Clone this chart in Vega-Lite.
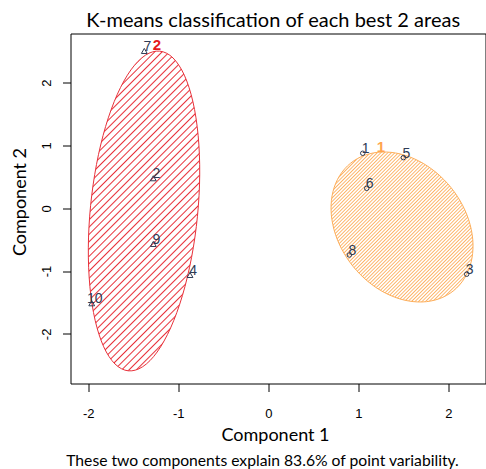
{
  "$schema": "https://vega.github.io/schema/vega-lite/v6.json",
  "width": 415,
  "height": 350,
  "autosize": "none",
  "padding": {"left": 70.5, "top": 33.5, "right": 0.5, "bottom": 85.5},
  "background": "white",
  "config": {"view": {"stroke": "black", "strokeWidth": 1}, "axis": {"grid": false}},
  "resolve": {"axis": {"x": "independent", "y": "independent"}},
  "datasets": {
    "red": [
      {"i": 0, "x": -1.2066, "y": 2.5021}, {"i": 1, "x": -1.0589, "y": 2.3936}, {"i": 2, "x": -0.9331, "y": 2.1191},
      {"i": 3, "x": -0.8378, "y": 1.6976}, {"i": 4, "x": -0.7796, "y": 1.1572}, {"i": 5, "x": -0.7623, "y": 0.5349},
      {"i": 6, "x": -0.7873, "y": -0.1266}, {"i": 7, "x": -0.8528, "y": -0.7823}, {"i": 8, "x": -0.9542, "y": -1.3881},
      {"i": 9, "x": -1.0847, "y": -1.9017}, {"i": 10, "x": -1.2353, "y": -2.2889}, {"i": 11, "x": -1.396, "y": -2.5229},
      {"i": 12, "x": -1.5557, "y": -2.5881}, {"i": 13, "x": -1.7033, "y": -2.4796}, {"i": 14, "x": -1.8291, "y": -2.2051},
      {"i": 15, "x": -1.9244, "y": -1.7836}, {"i": 16, "x": -1.9827, "y": -1.2432}, {"i": 17, "x": -1.9999, "y": -0.6209},
      {"i": 18, "x": -1.9749, "y": 0.0406}, {"i": 19, "x": -1.9094, "y": 0.6963}, {"i": 20, "x": -1.808, "y": 1.3021},
      {"i": 21, "x": -1.6776, "y": 1.8158}, {"i": 22, "x": -1.5269, "y": 2.2029}, {"i": 23, "x": -1.3662, "y": 2.4369}
    ],
    "orange": [
      {"i": 0, "x": 2.0573, "y": -1.3132}, {"i": 1, "x": 1.8972, "y": -1.4414}, {"i": 2, "x": 1.7089, "y": -1.4916},
      {"i": 3, "x": 1.5056, "y": -1.4604}, {"i": 4, "x": 1.3007, "y": -1.35}, {"i": 5, "x": 1.1086, "y": -1.1677},
      {"i": 6, "x": 0.942, "y": -0.9264}, {"i": 7, "x": 0.8126, "y": -0.6422}, {"i": 8, "x": 0.7289, "y": -0.3344},
      {"i": 9, "x": 0.6969, "y": -0.0244}, {"i": 10, "x": 0.7187, "y": 0.2674}, {"i": 11, "x": 0.7926, "y": 0.5204},
      {"i": 12, "x": 0.9138, "y": 0.7177}, {"i": 13, "x": 1.0739, "y": 0.8459}, {"i": 14, "x": 1.2622, "y": 0.896},
      {"i": 15, "x": 1.4656, "y": 0.8648}, {"i": 16, "x": 1.6704, "y": 0.7545}, {"i": 17, "x": 1.8626, "y": 0.5721},
      {"i": 18, "x": 2.0291, "y": 0.3309}, {"i": 19, "x": 2.1586, "y": 0.0467}, {"i": 20, "x": 2.2422, "y": -0.2611},
      {"i": 21, "x": 2.2742, "y": -0.5712}, {"i": 22, "x": 2.2524, "y": -0.8629}, {"i": 23, "x": 2.1786, "y": -1.1159}
    ],
    "pts": [
      {"id": "1", "cluster": "1", "x": 1.049, "y": 0.876},
      {"id": "2", "cluster": "2", "x": -1.278, "y": 0.478},
      {"id": "3", "cluster": "1", "x": 2.204, "y": -1.05},
      {"id": "4", "cluster": "2", "x": -0.87, "y": -1.062},
      {"id": "5", "cluster": "1", "x": 1.5, "y": 0.806},
      {"id": "6", "cluster": "1", "x": 1.093, "y": 0.318},
      {"id": "7", "cluster": "2", "x": -1.378, "y": 2.505},
      {"id": "8", "cluster": "1", "x": 0.9, "y": -0.744},
      {"id": "9", "cluster": "2", "x": -1.278, "y": -0.568},
      {"id": "10", "cluster": "2", "x": -1.962, "y": -1.513}
    ],
    "clabels": [
      {"cl": "2", "x": -1.237, "y": 2.6},
      {"cl": "1", "x": 1.252, "y": 0.976}
    ]
  },
  "layer": [
    {
      "data": {"name": "red"},
      "mark": {
        "type": "line",
        "interpolate": "cardinal-closed",
        "stroke": "#e8313a",
        "strokeWidth": 1,
        "fill": {
          "gradient": "linear",
          "x1": 0, "y1": 0, "x2": 0.4184, "y2": 1.2024,
          "stops": [
            {"offset": 0.0000, "color": "#ffffff"}, {"offset": 0.0033, "color": "#e8313a"}, {"offset": 0.0066, "color": "#ffffff"},
            {"offset": 0.0169, "color": "#ffffff"}, {"offset": 0.0202, "color": "#e8313a"}, {"offset": 0.0235, "color": "#ffffff"},
            {"offset": 0.0339, "color": "#ffffff"}, {"offset": 0.0372, "color": "#e8313a"}, {"offset": 0.0405, "color": "#ffffff"},
            {"offset": 0.0508, "color": "#ffffff"}, {"offset": 0.0541, "color": "#e8313a"}, {"offset": 0.0574, "color": "#ffffff"},
            {"offset": 0.0678, "color": "#ffffff"}, {"offset": 0.0711, "color": "#e8313a"}, {"offset": 0.0744, "color": "#ffffff"},
            {"offset": 0.0847, "color": "#ffffff"}, {"offset": 0.0880, "color": "#e8313a"}, {"offset": 0.0913, "color": "#ffffff"},
            {"offset": 0.1017, "color": "#ffffff"}, {"offset": 0.1050, "color": "#e8313a"}, {"offset": 0.1083, "color": "#ffffff"},
            {"offset": 0.1186, "color": "#ffffff"}, {"offset": 0.1219, "color": "#e8313a"}, {"offset": 0.1252, "color": "#ffffff"},
            {"offset": 0.1356, "color": "#ffffff"}, {"offset": 0.1389, "color": "#e8313a"}, {"offset": 0.1422, "color": "#ffffff"},
            {"offset": 0.1525, "color": "#ffffff"}, {"offset": 0.1558, "color": "#e8313a"}, {"offset": 0.1591, "color": "#ffffff"},
            {"offset": 0.1695, "color": "#ffffff"}, {"offset": 0.1728, "color": "#e8313a"}, {"offset": 0.1761, "color": "#ffffff"},
            {"offset": 0.1864, "color": "#ffffff"}, {"offset": 0.1897, "color": "#e8313a"}, {"offset": 0.1930, "color": "#ffffff"},
            {"offset": 0.2034, "color": "#ffffff"}, {"offset": 0.2067, "color": "#e8313a"}, {"offset": 0.2100, "color": "#ffffff"},
            {"offset": 0.2203, "color": "#ffffff"}, {"offset": 0.2236, "color": "#e8313a"}, {"offset": 0.2269, "color": "#ffffff"},
            {"offset": 0.2373, "color": "#ffffff"}, {"offset": 0.2406, "color": "#e8313a"}, {"offset": 0.2439, "color": "#ffffff"},
            {"offset": 0.2542, "color": "#ffffff"}, {"offset": 0.2575, "color": "#e8313a"}, {"offset": 0.2608, "color": "#ffffff"},
            {"offset": 0.2712, "color": "#ffffff"}, {"offset": 0.2745, "color": "#e8313a"}, {"offset": 0.2778, "color": "#ffffff"},
            {"offset": 0.2881, "color": "#ffffff"}, {"offset": 0.2914, "color": "#e8313a"}, {"offset": 0.2947, "color": "#ffffff"},
            {"offset": 0.3051, "color": "#ffffff"}, {"offset": 0.3084, "color": "#e8313a"}, {"offset": 0.3117, "color": "#ffffff"},
            {"offset": 0.3220, "color": "#ffffff"}, {"offset": 0.3253, "color": "#e8313a"}, {"offset": 0.3286, "color": "#ffffff"},
            {"offset": 0.3390, "color": "#ffffff"}, {"offset": 0.3423, "color": "#e8313a"}, {"offset": 0.3456, "color": "#ffffff"},
            {"offset": 0.3559, "color": "#ffffff"}, {"offset": 0.3592, "color": "#e8313a"}, {"offset": 0.3625, "color": "#ffffff"},
            {"offset": 0.3729, "color": "#ffffff"}, {"offset": 0.3762, "color": "#e8313a"}, {"offset": 0.3795, "color": "#ffffff"},
            {"offset": 0.3898, "color": "#ffffff"}, {"offset": 0.3931, "color": "#e8313a"}, {"offset": 0.3964, "color": "#ffffff"},
            {"offset": 0.4068, "color": "#ffffff"}, {"offset": 0.4101, "color": "#e8313a"}, {"offset": 0.4134, "color": "#ffffff"},
            {"offset": 0.4237, "color": "#ffffff"}, {"offset": 0.4270, "color": "#e8313a"}, {"offset": 0.4303, "color": "#ffffff"},
            {"offset": 0.4407, "color": "#ffffff"}, {"offset": 0.4440, "color": "#e8313a"}, {"offset": 0.4473, "color": "#ffffff"},
            {"offset": 0.4576, "color": "#ffffff"}, {"offset": 0.4609, "color": "#e8313a"}, {"offset": 0.4642, "color": "#ffffff"},
            {"offset": 0.4746, "color": "#ffffff"}, {"offset": 0.4779, "color": "#e8313a"}, {"offset": 0.4812, "color": "#ffffff"},
            {"offset": 0.4915, "color": "#ffffff"}, {"offset": 0.4948, "color": "#e8313a"}, {"offset": 0.4981, "color": "#ffffff"},
            {"offset": 0.5085, "color": "#ffffff"}, {"offset": 0.5118, "color": "#e8313a"}, {"offset": 0.5151, "color": "#ffffff"},
            {"offset": 0.5254, "color": "#ffffff"}, {"offset": 0.5287, "color": "#e8313a"}, {"offset": 0.5320, "color": "#ffffff"},
            {"offset": 0.5424, "color": "#ffffff"}, {"offset": 0.5457, "color": "#e8313a"}, {"offset": 0.5490, "color": "#ffffff"},
            {"offset": 0.5593, "color": "#ffffff"}, {"offset": 0.5626, "color": "#e8313a"}, {"offset": 0.5659, "color": "#ffffff"},
            {"offset": 0.5763, "color": "#ffffff"}, {"offset": 0.5796, "color": "#e8313a"}, {"offset": 0.5829, "color": "#ffffff"},
            {"offset": 0.5932, "color": "#ffffff"}, {"offset": 0.5965, "color": "#e8313a"}, {"offset": 0.5998, "color": "#ffffff"},
            {"offset": 0.6102, "color": "#ffffff"}, {"offset": 0.6135, "color": "#e8313a"}, {"offset": 0.6168, "color": "#ffffff"},
            {"offset": 0.6271, "color": "#ffffff"}, {"offset": 0.6304, "color": "#e8313a"}, {"offset": 0.6337, "color": "#ffffff"},
            {"offset": 0.6441, "color": "#ffffff"}, {"offset": 0.6474, "color": "#e8313a"}, {"offset": 0.6507, "color": "#ffffff"},
            {"offset": 0.6610, "color": "#ffffff"}, {"offset": 0.6643, "color": "#e8313a"}, {"offset": 0.6676, "color": "#ffffff"},
            {"offset": 0.6780, "color": "#ffffff"}, {"offset": 0.6813, "color": "#e8313a"}, {"offset": 0.6846, "color": "#ffffff"},
            {"offset": 0.6949, "color": "#ffffff"}, {"offset": 0.6982, "color": "#e8313a"}, {"offset": 0.7015, "color": "#ffffff"},
            {"offset": 0.7119, "color": "#ffffff"}, {"offset": 0.7152, "color": "#e8313a"}, {"offset": 0.7185, "color": "#ffffff"},
            {"offset": 0.7288, "color": "#ffffff"}, {"offset": 0.7321, "color": "#e8313a"}, {"offset": 0.7354, "color": "#ffffff"},
            {"offset": 0.7458, "color": "#ffffff"}, {"offset": 0.7491, "color": "#e8313a"}, {"offset": 0.7524, "color": "#ffffff"},
            {"offset": 0.7627, "color": "#ffffff"}, {"offset": 0.7660, "color": "#e8313a"}, {"offset": 0.7693, "color": "#ffffff"},
            {"offset": 0.7797, "color": "#ffffff"}, {"offset": 0.7830, "color": "#e8313a"}, {"offset": 0.7863, "color": "#ffffff"},
            {"offset": 0.7966, "color": "#ffffff"}, {"offset": 0.7999, "color": "#e8313a"}, {"offset": 0.8032, "color": "#ffffff"},
            {"offset": 0.8136, "color": "#ffffff"}, {"offset": 0.8169, "color": "#e8313a"}, {"offset": 0.8202, "color": "#ffffff"},
            {"offset": 0.8305, "color": "#ffffff"}, {"offset": 0.8338, "color": "#e8313a"}, {"offset": 0.8371, "color": "#ffffff"},
            {"offset": 0.8475, "color": "#ffffff"}, {"offset": 0.8508, "color": "#e8313a"}, {"offset": 0.8541, "color": "#ffffff"},
            {"offset": 0.8644, "color": "#ffffff"}, {"offset": 0.8677, "color": "#e8313a"}, {"offset": 0.8710, "color": "#ffffff"},
            {"offset": 0.8814, "color": "#ffffff"}, {"offset": 0.8847, "color": "#e8313a"}, {"offset": 0.8880, "color": "#ffffff"},
            {"offset": 0.8983, "color": "#ffffff"}, {"offset": 0.9016, "color": "#e8313a"}, {"offset": 0.9049, "color": "#ffffff"},
            {"offset": 0.9153, "color": "#ffffff"}, {"offset": 0.9186, "color": "#e8313a"}, {"offset": 0.9219, "color": "#ffffff"},
            {"offset": 0.9322, "color": "#ffffff"}, {"offset": 0.9355, "color": "#e8313a"}, {"offset": 0.9388, "color": "#ffffff"},
            {"offset": 0.9492, "color": "#ffffff"}, {"offset": 0.9525, "color": "#e8313a"}, {"offset": 0.9558, "color": "#ffffff"},
            {"offset": 0.9661, "color": "#ffffff"}, {"offset": 0.9694, "color": "#e8313a"}, {"offset": 0.9727, "color": "#ffffff"},
            {"offset": 0.9831, "color": "#ffffff"}, {"offset": 0.9864, "color": "#e8313a"}, {"offset": 0.9897, "color": "#ffffff"},
            {"offset": 1.0, "color": "#ffffff"}
          ]
        }
      },
      "encoding": {
        "x": {
          "field": "x", "type": "quantitative",
          "scale": {"domain": [-2.198, 2.413], "nice": false, "zero": false},
          "axis": {
            "orient": "bottom", "values": [-2, -1, 0, 1, 2], "domain": false, "grid": false,
            "tickSize": 8, "tickColor": "black", "tickWidth": 1,
            "labelFont": "Liberation Sans", "labelFontSize": 13, "labelColor": "black",
            "labelBaseline": "alphabetic", "labelPadding": 26, "labelFlush": false, "labelOverlap": false,
            "labelExpr": "datum.value < 0 ? '-' + abs(datum.value) : '' + datum.value",
            "title": "Component 1", "titleFont": "Lato", "titleFontSize": 18, "titleFontWeight": "normal",
            "titleColor": "black", "titleX": 204.5, "titleY": 56.5, "titleAlign": "center", "titleBaseline": "alphabetic"
          }
        },
        "y": {
          "field": "y", "type": "quantitative",
          "scale": {"domain": [-2.79, 2.783], "nice": false, "zero": false},
          "axis": {
            "orient": "left", "values": [-2, -1, 0, 1, 2], "domain": false, "grid": false,
            "tickSize": 8, "tickColor": "black", "tickWidth": 1,
            "labelFont": "Liberation Sans", "labelFontSize": 13, "labelColor": "black",
            "labelAngle": 270, "labelAlign": "center", "labelBaseline": "alphabetic", "labelPadding": 12.5,
            "labelFlush": false, "labelOverlap": false,
            "labelExpr": "datum.value < 0 ? '-' + abs(datum.value) : '' + datum.value",
            "title": "Component 2", "titleFont": "Lato", "titleFontSize": 18, "titleFontWeight": "normal",
            "titleColor": "black", "titleAngle": 270, "titleX": -45, "titleY": 168, "titleAlign": "center", "titleBaseline": "alphabetic"
          }
        },
        "order": {"field": "i", "type": "quantitative"}
      }
    },
    {
      "data": {"name": "orange"},
      "mark": {
        "type": "line",
        "interpolate": "cardinal-closed",
        "stroke": "#fdae5a",
        "strokeWidth": 1,
        "fill": {
          "gradient": "linear",
          "x1": 0, "y1": 0, "x2": 0.9719, "y2": 1.0266,
          "stops": [
            {"offset": 0.0000, "color": "#ffffff"}, {"offset": 0.0045, "color": "#fdb366"}, {"offset": 0.0090, "color": "#ffffff"},
            {"offset": 0.0120, "color": "#ffffff"}, {"offset": 0.0165, "color": "#fdb366"}, {"offset": 0.0210, "color": "#ffffff"},
            {"offset": 0.0241, "color": "#ffffff"}, {"offset": 0.0286, "color": "#fdb366"}, {"offset": 0.0331, "color": "#ffffff"},
            {"offset": 0.0361, "color": "#ffffff"}, {"offset": 0.0406, "color": "#fdb366"}, {"offset": 0.0451, "color": "#ffffff"},
            {"offset": 0.0482, "color": "#ffffff"}, {"offset": 0.0527, "color": "#fdb366"}, {"offset": 0.0572, "color": "#ffffff"},
            {"offset": 0.0602, "color": "#ffffff"}, {"offset": 0.0647, "color": "#fdb366"}, {"offset": 0.0692, "color": "#ffffff"},
            {"offset": 0.0723, "color": "#ffffff"}, {"offset": 0.0768, "color": "#fdb366"}, {"offset": 0.0813, "color": "#ffffff"},
            {"offset": 0.0843, "color": "#ffffff"}, {"offset": 0.0888, "color": "#fdb366"}, {"offset": 0.0933, "color": "#ffffff"},
            {"offset": 0.0964, "color": "#ffffff"}, {"offset": 0.1009, "color": "#fdb366"}, {"offset": 0.1054, "color": "#ffffff"},
            {"offset": 0.1084, "color": "#ffffff"}, {"offset": 0.1129, "color": "#fdb366"}, {"offset": 0.1174, "color": "#ffffff"},
            {"offset": 0.1205, "color": "#ffffff"}, {"offset": 0.1250, "color": "#fdb366"}, {"offset": 0.1295, "color": "#ffffff"},
            {"offset": 0.1325, "color": "#ffffff"}, {"offset": 0.1370, "color": "#fdb366"}, {"offset": 0.1415, "color": "#ffffff"},
            {"offset": 0.1446, "color": "#ffffff"}, {"offset": 0.1491, "color": "#fdb366"}, {"offset": 0.1536, "color": "#ffffff"},
            {"offset": 0.1566, "color": "#ffffff"}, {"offset": 0.1611, "color": "#fdb366"}, {"offset": 0.1656, "color": "#ffffff"},
            {"offset": 0.1687, "color": "#ffffff"}, {"offset": 0.1732, "color": "#fdb366"}, {"offset": 0.1777, "color": "#ffffff"},
            {"offset": 0.1807, "color": "#ffffff"}, {"offset": 0.1852, "color": "#fdb366"}, {"offset": 0.1897, "color": "#ffffff"},
            {"offset": 0.1928, "color": "#ffffff"}, {"offset": 0.1973, "color": "#fdb366"}, {"offset": 0.2018, "color": "#ffffff"},
            {"offset": 0.2048, "color": "#ffffff"}, {"offset": 0.2093, "color": "#fdb366"}, {"offset": 0.2138, "color": "#ffffff"},
            {"offset": 0.2169, "color": "#ffffff"}, {"offset": 0.2214, "color": "#fdb366"}, {"offset": 0.2259, "color": "#ffffff"},
            {"offset": 0.2289, "color": "#ffffff"}, {"offset": 0.2334, "color": "#fdb366"}, {"offset": 0.2379, "color": "#ffffff"},
            {"offset": 0.2410, "color": "#ffffff"}, {"offset": 0.2455, "color": "#fdb366"}, {"offset": 0.2500, "color": "#ffffff"},
            {"offset": 0.2530, "color": "#ffffff"}, {"offset": 0.2575, "color": "#fdb366"}, {"offset": 0.2620, "color": "#ffffff"},
            {"offset": 0.2651, "color": "#ffffff"}, {"offset": 0.2696, "color": "#fdb366"}, {"offset": 0.2741, "color": "#ffffff"},
            {"offset": 0.2771, "color": "#ffffff"}, {"offset": 0.2816, "color": "#fdb366"}, {"offset": 0.2861, "color": "#ffffff"},
            {"offset": 0.2892, "color": "#ffffff"}, {"offset": 0.2937, "color": "#fdb366"}, {"offset": 0.2982, "color": "#ffffff"},
            {"offset": 0.3012, "color": "#ffffff"}, {"offset": 0.3057, "color": "#fdb366"}, {"offset": 0.3102, "color": "#ffffff"},
            {"offset": 0.3133, "color": "#ffffff"}, {"offset": 0.3178, "color": "#fdb366"}, {"offset": 0.3223, "color": "#ffffff"},
            {"offset": 0.3253, "color": "#ffffff"}, {"offset": 0.3298, "color": "#fdb366"}, {"offset": 0.3343, "color": "#ffffff"},
            {"offset": 0.3373, "color": "#ffffff"}, {"offset": 0.3418, "color": "#fdb366"}, {"offset": 0.3463, "color": "#ffffff"},
            {"offset": 0.3494, "color": "#ffffff"}, {"offset": 0.3539, "color": "#fdb366"}, {"offset": 0.3584, "color": "#ffffff"},
            {"offset": 0.3614, "color": "#ffffff"}, {"offset": 0.3659, "color": "#fdb366"}, {"offset": 0.3704, "color": "#ffffff"},
            {"offset": 0.3735, "color": "#ffffff"}, {"offset": 0.3780, "color": "#fdb366"}, {"offset": 0.3825, "color": "#ffffff"},
            {"offset": 0.3855, "color": "#ffffff"}, {"offset": 0.3900, "color": "#fdb366"}, {"offset": 0.3945, "color": "#ffffff"},
            {"offset": 0.3976, "color": "#ffffff"}, {"offset": 0.4021, "color": "#fdb366"}, {"offset": 0.4066, "color": "#ffffff"},
            {"offset": 0.4096, "color": "#ffffff"}, {"offset": 0.4141, "color": "#fdb366"}, {"offset": 0.4186, "color": "#ffffff"},
            {"offset": 0.4217, "color": "#ffffff"}, {"offset": 0.4262, "color": "#fdb366"}, {"offset": 0.4307, "color": "#ffffff"},
            {"offset": 0.4337, "color": "#ffffff"}, {"offset": 0.4382, "color": "#fdb366"}, {"offset": 0.4427, "color": "#ffffff"},
            {"offset": 0.4458, "color": "#ffffff"}, {"offset": 0.4503, "color": "#fdb366"}, {"offset": 0.4548, "color": "#ffffff"},
            {"offset": 0.4578, "color": "#ffffff"}, {"offset": 0.4623, "color": "#fdb366"}, {"offset": 0.4668, "color": "#ffffff"},
            {"offset": 0.4699, "color": "#ffffff"}, {"offset": 0.4744, "color": "#fdb366"}, {"offset": 0.4789, "color": "#ffffff"},
            {"offset": 0.4819, "color": "#ffffff"}, {"offset": 0.4864, "color": "#fdb366"}, {"offset": 0.4909, "color": "#ffffff"},
            {"offset": 0.4940, "color": "#ffffff"}, {"offset": 0.4985, "color": "#fdb366"}, {"offset": 0.5030, "color": "#ffffff"},
            {"offset": 0.5060, "color": "#ffffff"}, {"offset": 0.5105, "color": "#fdb366"}, {"offset": 0.5150, "color": "#ffffff"},
            {"offset": 0.5181, "color": "#ffffff"}, {"offset": 0.5226, "color": "#fdb366"}, {"offset": 0.5271, "color": "#ffffff"},
            {"offset": 0.5301, "color": "#ffffff"}, {"offset": 0.5346, "color": "#fdb366"}, {"offset": 0.5391, "color": "#ffffff"},
            {"offset": 0.5422, "color": "#ffffff"}, {"offset": 0.5467, "color": "#fdb366"}, {"offset": 0.5512, "color": "#ffffff"},
            {"offset": 0.5542, "color": "#ffffff"}, {"offset": 0.5587, "color": "#fdb366"}, {"offset": 0.5632, "color": "#ffffff"},
            {"offset": 0.5663, "color": "#ffffff"}, {"offset": 0.5708, "color": "#fdb366"}, {"offset": 0.5753, "color": "#ffffff"},
            {"offset": 0.5783, "color": "#ffffff"}, {"offset": 0.5828, "color": "#fdb366"}, {"offset": 0.5873, "color": "#ffffff"},
            {"offset": 0.5904, "color": "#ffffff"}, {"offset": 0.5949, "color": "#fdb366"}, {"offset": 0.5994, "color": "#ffffff"},
            {"offset": 0.6024, "color": "#ffffff"}, {"offset": 0.6069, "color": "#fdb366"}, {"offset": 0.6114, "color": "#ffffff"},
            {"offset": 0.6145, "color": "#ffffff"}, {"offset": 0.6190, "color": "#fdb366"}, {"offset": 0.6235, "color": "#ffffff"},
            {"offset": 0.6265, "color": "#ffffff"}, {"offset": 0.6310, "color": "#fdb366"}, {"offset": 0.6355, "color": "#ffffff"},
            {"offset": 0.6386, "color": "#ffffff"}, {"offset": 0.6431, "color": "#fdb366"}, {"offset": 0.6476, "color": "#ffffff"},
            {"offset": 0.6506, "color": "#ffffff"}, {"offset": 0.6551, "color": "#fdb366"}, {"offset": 0.6596, "color": "#ffffff"},
            {"offset": 0.6627, "color": "#ffffff"}, {"offset": 0.6672, "color": "#fdb366"}, {"offset": 0.6717, "color": "#ffffff"},
            {"offset": 0.6747, "color": "#ffffff"}, {"offset": 0.6792, "color": "#fdb366"}, {"offset": 0.6837, "color": "#ffffff"},
            {"offset": 0.6867, "color": "#ffffff"}, {"offset": 0.6912, "color": "#fdb366"}, {"offset": 0.6957, "color": "#ffffff"},
            {"offset": 0.6988, "color": "#ffffff"}, {"offset": 0.7033, "color": "#fdb366"}, {"offset": 0.7078, "color": "#ffffff"},
            {"offset": 0.7108, "color": "#ffffff"}, {"offset": 0.7153, "color": "#fdb366"}, {"offset": 0.7198, "color": "#ffffff"},
            {"offset": 0.7229, "color": "#ffffff"}, {"offset": 0.7274, "color": "#fdb366"}, {"offset": 0.7319, "color": "#ffffff"},
            {"offset": 0.7349, "color": "#ffffff"}, {"offset": 0.7394, "color": "#fdb366"}, {"offset": 0.7439, "color": "#ffffff"},
            {"offset": 0.7470, "color": "#ffffff"}, {"offset": 0.7515, "color": "#fdb366"}, {"offset": 0.7560, "color": "#ffffff"},
            {"offset": 0.7590, "color": "#ffffff"}, {"offset": 0.7635, "color": "#fdb366"}, {"offset": 0.7680, "color": "#ffffff"},
            {"offset": 0.7711, "color": "#ffffff"}, {"offset": 0.7756, "color": "#fdb366"}, {"offset": 0.7801, "color": "#ffffff"},
            {"offset": 0.7831, "color": "#ffffff"}, {"offset": 0.7876, "color": "#fdb366"}, {"offset": 0.7921, "color": "#ffffff"},
            {"offset": 0.7952, "color": "#ffffff"}, {"offset": 0.7997, "color": "#fdb366"}, {"offset": 0.8042, "color": "#ffffff"},
            {"offset": 0.8072, "color": "#ffffff"}, {"offset": 0.8117, "color": "#fdb366"}, {"offset": 0.8162, "color": "#ffffff"},
            {"offset": 0.8193, "color": "#ffffff"}, {"offset": 0.8238, "color": "#fdb366"}, {"offset": 0.8283, "color": "#ffffff"},
            {"offset": 0.8313, "color": "#ffffff"}, {"offset": 0.8358, "color": "#fdb366"}, {"offset": 0.8403, "color": "#ffffff"},
            {"offset": 0.8434, "color": "#ffffff"}, {"offset": 0.8479, "color": "#fdb366"}, {"offset": 0.8524, "color": "#ffffff"},
            {"offset": 0.8554, "color": "#ffffff"}, {"offset": 0.8599, "color": "#fdb366"}, {"offset": 0.8644, "color": "#ffffff"},
            {"offset": 0.8675, "color": "#ffffff"}, {"offset": 0.8720, "color": "#fdb366"}, {"offset": 0.8765, "color": "#ffffff"},
            {"offset": 0.8795, "color": "#ffffff"}, {"offset": 0.8840, "color": "#fdb366"}, {"offset": 0.8885, "color": "#ffffff"},
            {"offset": 0.8916, "color": "#ffffff"}, {"offset": 0.8961, "color": "#fdb366"}, {"offset": 0.9006, "color": "#ffffff"},
            {"offset": 0.9036, "color": "#ffffff"}, {"offset": 0.9081, "color": "#fdb366"}, {"offset": 0.9126, "color": "#ffffff"},
            {"offset": 0.9157, "color": "#ffffff"}, {"offset": 0.9202, "color": "#fdb366"}, {"offset": 0.9247, "color": "#ffffff"},
            {"offset": 0.9277, "color": "#ffffff"}, {"offset": 0.9322, "color": "#fdb366"}, {"offset": 0.9367, "color": "#ffffff"},
            {"offset": 0.9398, "color": "#ffffff"}, {"offset": 0.9443, "color": "#fdb366"}, {"offset": 0.9488, "color": "#ffffff"},
            {"offset": 0.9518, "color": "#ffffff"}, {"offset": 0.9563, "color": "#fdb366"}, {"offset": 0.9608, "color": "#ffffff"},
            {"offset": 0.9639, "color": "#ffffff"}, {"offset": 0.9684, "color": "#fdb366"}, {"offset": 0.9729, "color": "#ffffff"},
            {"offset": 0.9759, "color": "#ffffff"}, {"offset": 0.9804, "color": "#fdb366"}, {"offset": 0.9849, "color": "#ffffff"},
            {"offset": 0.9880, "color": "#ffffff"}, {"offset": 0.9925, "color": "#fdb366"}, {"offset": 0.9970, "color": "#ffffff"},
            {"offset": 1.0, "color": "#ffffff"}
          ]
        }
      },
      "encoding": {
        "x": {
          "field": "x", "type": "quantitative",
          "scale": {"domain": [-2.198, 2.413], "nice": false, "zero": false},
          "axis": {
            "orient": "top", "domain": false, "ticks": false, "labels": false, "grid": false,
            "title": "K-means classification of each best 2 areas", "titleFont": "Lato", "titleFontSize": 20,
            "titleFontWeight": "normal", "titleColor": "black", "titleX": 202.2, "titleY": -7.5,
            "titleAlign": "center", "titleBaseline": "alphabetic"
          }
        },
        "y": {
          "field": "y", "type": "quantitative",
          "scale": {"domain": [-2.79, 2.783], "nice": false, "zero": false},
          "axis": null
        },
        "order": {"field": "i", "type": "quantitative"}
      }
    },
    {
      "data": {"name": "pts"},
      "mark": {"type": "point", "filled": false, "stroke": "#2e3b55", "strokeWidth": 1, "opacity": 1},
      "encoding": {
        "x": {
          "field": "x", "type": "quantitative",
          "scale": {"domain": [-2.198, 2.413], "nice": false, "zero": false},
          "axis": null
        },
        "y": {
          "field": "y", "type": "quantitative",
          "scale": {"domain": [-2.79, 2.783], "nice": false, "zero": false},
          "axis": {
            "orient": "right", "domain": false, "ticks": false, "labels": false, "grid": false,
            "title": "These two components explain 83.6% of point variability.", "titleFont": "Lato",
            "titleFontSize": 15.7, "titleFontWeight": "normal", "titleColor": "black", "titleAngle": 0,
            "titleX": -223.5, "titleY": 432.3, "titleAlign": "center", "titleBaseline": "alphabetic"
          }
        },
        "shape": {"field": "cluster", "type": "nominal", "scale": {"domain": ["1", "2"], "range": ["circle", "triangle-up"]}, "legend": null},
        "size": {"field": "cluster", "type": "ordinal", "scale": {"domain": ["1", "2"], "range": [20, 34]}, "legend": null}
      }
    },
    {
      "data": {"name": "pts"},
      "mark": {"type": "text", "font": "Liberation Sans", "fontSize": 14, "fill": "#2e3b55", "dx": 3, "dy": -4, "align": "center", "baseline": "middle"},
      "encoding": {
        "x": {
          "field": "x", "type": "quantitative",
          "scale": {"domain": [-2.198, 2.413], "nice": false, "zero": false},
          "axis": null
        },
        "y": {
          "field": "y", "type": "quantitative",
          "scale": {"domain": [-2.79, 2.783], "nice": false, "zero": false},
          "axis": null
        },
        "text": {"field": "id", "type": "nominal"}
      }
    },
    {
      "data": {"name": "clabels"},
      "mark": {"type": "text", "font": "Liberation Sans", "fontSize": 15, "fontWeight": "bold", "align": "center", "baseline": "middle"},
      "encoding": {
        "x": {
          "field": "x", "type": "quantitative",
          "scale": {"domain": [-2.198, 2.413], "nice": false, "zero": false},
          "axis": null
        },
        "y": {
          "field": "y", "type": "quantitative",
          "scale": {"domain": [-2.79, 2.783], "nice": false, "zero": false},
          "axis": null
        },
        "text": {"field": "cl", "type": "nominal"},
        "color": {"field": "cl", "type": "nominal", "scale": {"domain": ["1", "2"], "range": ["#ffa54f", "#e41a1c"]}, "legend": null}
      }
    }
  ]
}
